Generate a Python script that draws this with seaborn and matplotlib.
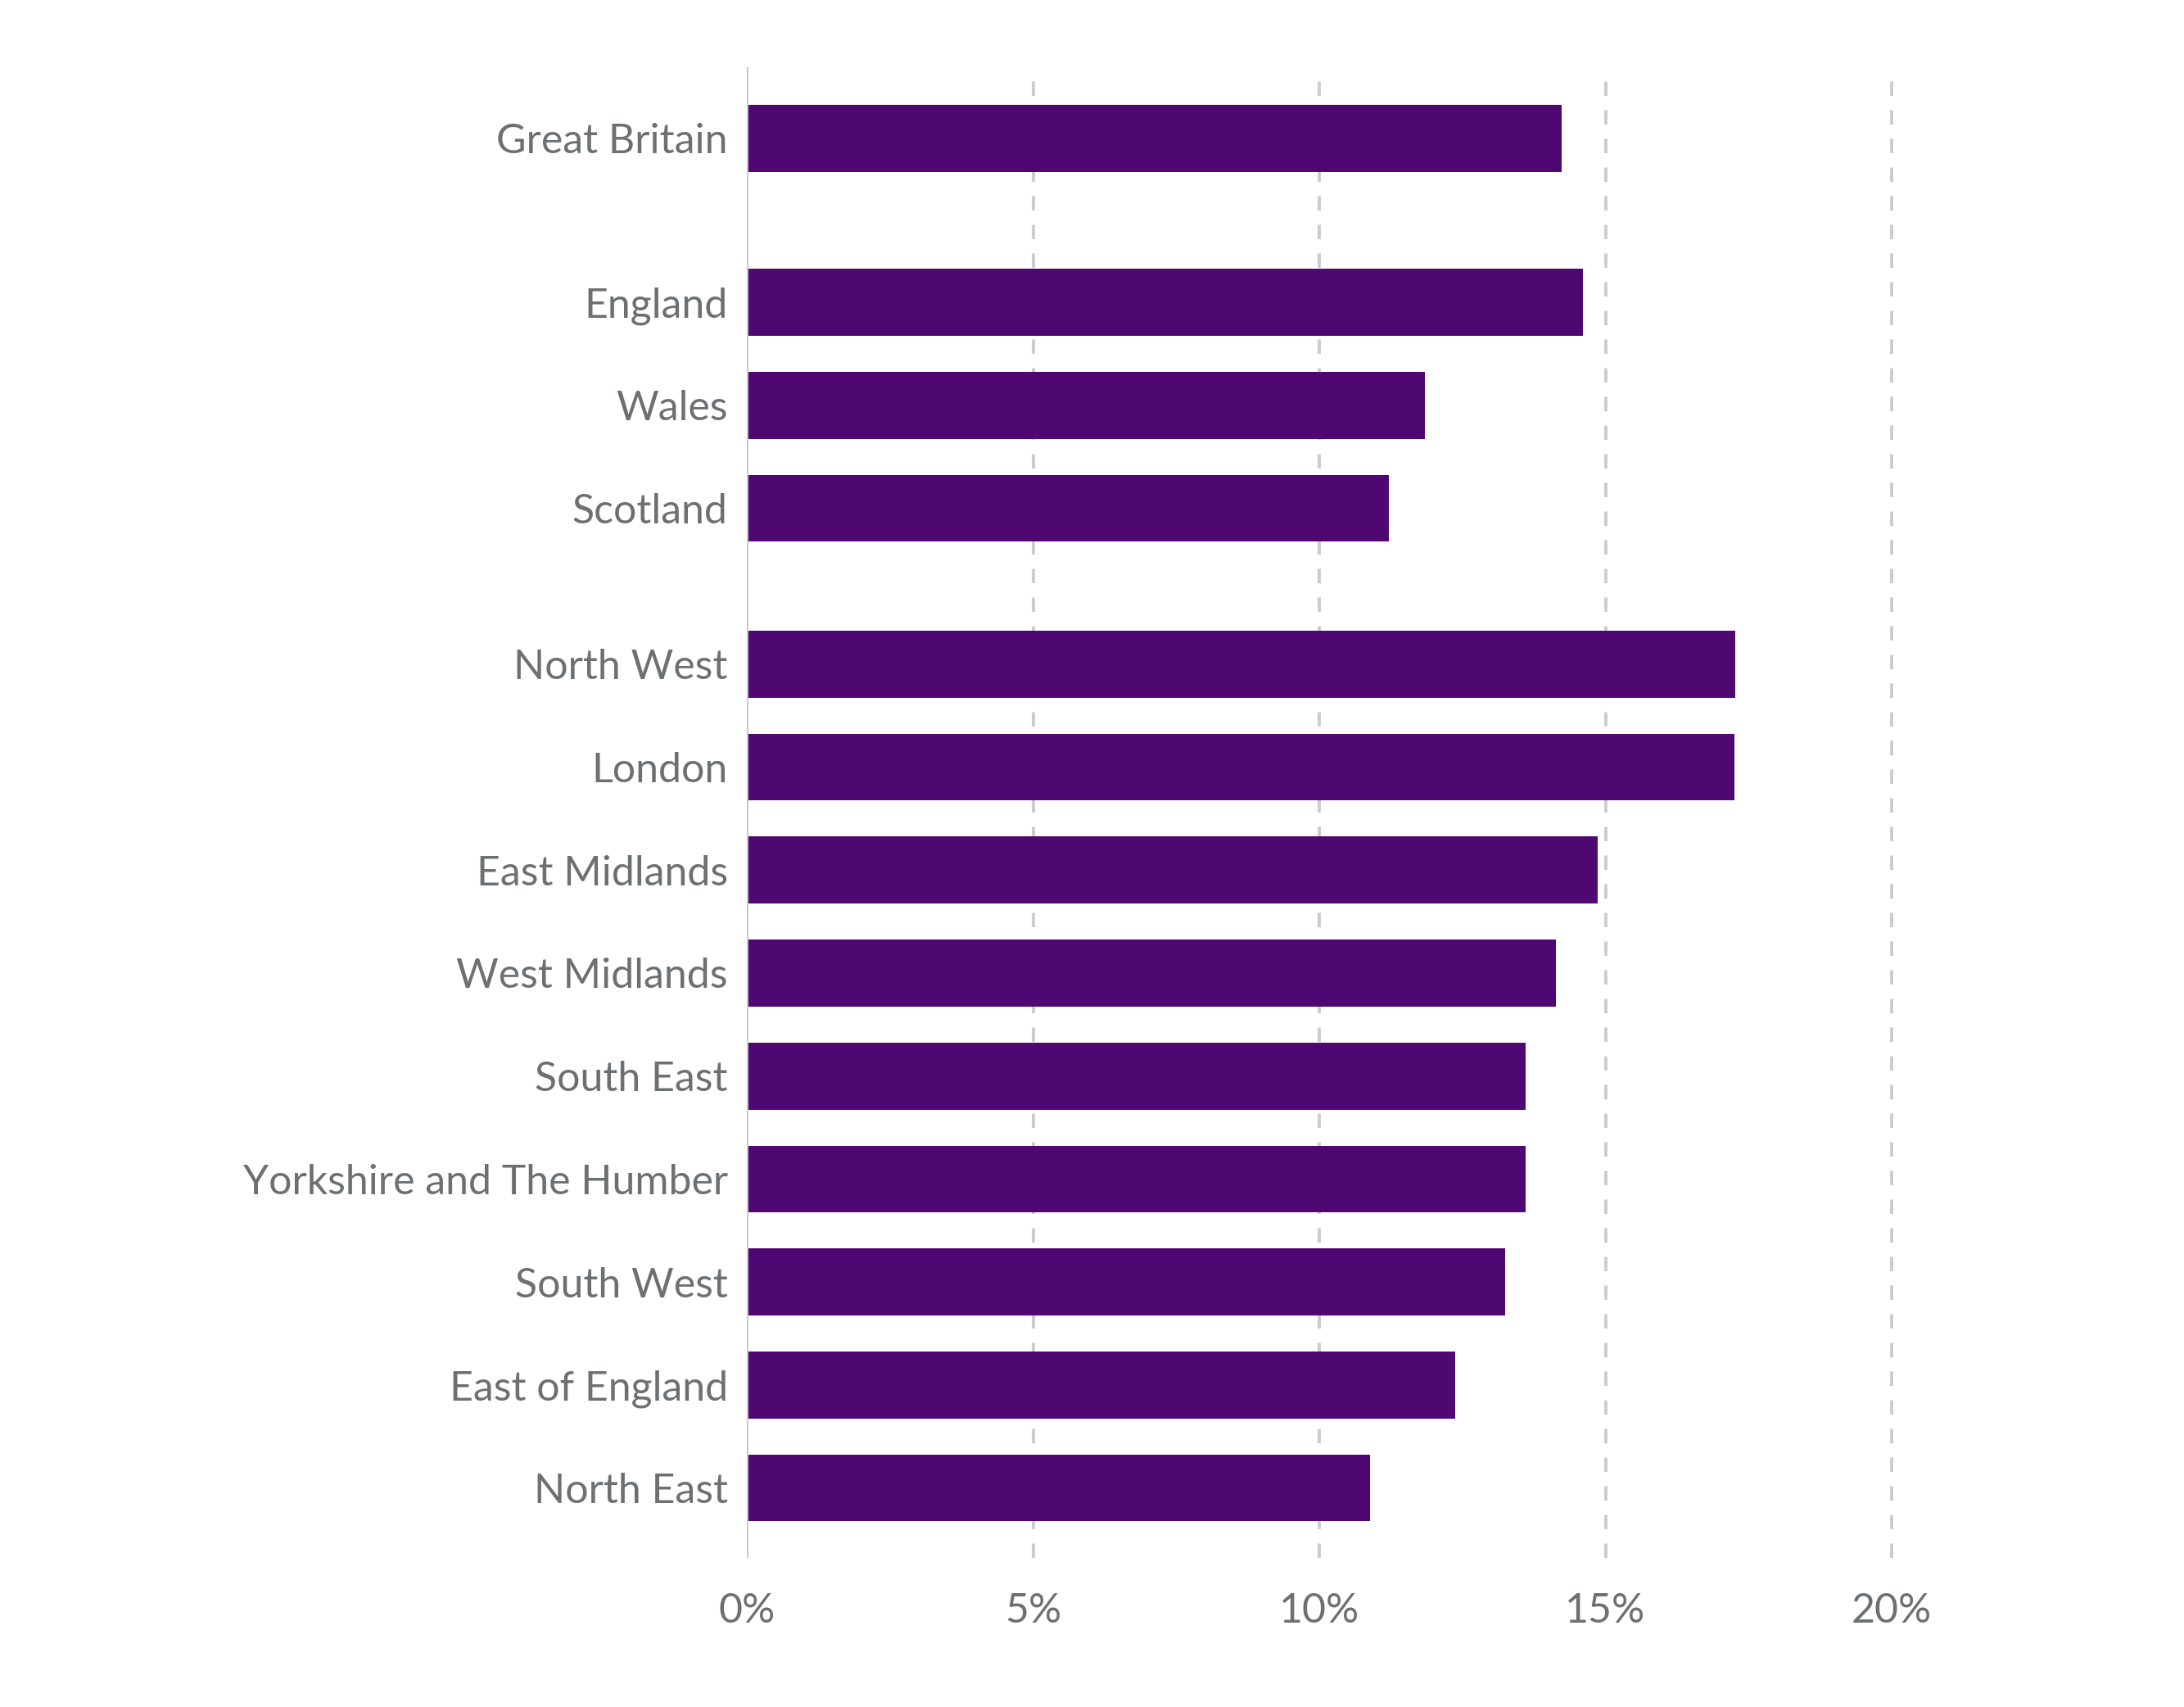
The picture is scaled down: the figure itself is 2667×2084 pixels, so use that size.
import matplotlib
matplotlib.use("Agg")
import matplotlib.pyplot as plt
import seaborn as sns
import pandas as pd

categories = ["Great Britain", "England", "Wales", "Scotland", "North West", "London",
              "East Midlands", "West Midlands", "South East", "Yorkshire and The Humber",
              "South West", "East of England", "North East"]
values = [14.24, 14.61, 11.84, 11.21, 17.27, 17.26, 14.86, 14.14, 13.61, 13.61,
          13.25, 12.37, 10.89]
groups = [0, 1, 1, 1, 2, 2, 2, 2, 2, 2, 2, 2, 2]
tick_values = [0, 5, 10, 15, 20]
tick_labels = ["0%", "5%", "10%", "15%", "20%"]

# layout: extra space before each new group
pos = []
for i, g in enumerate(groups):
    extra = 0.0
    if g >= 1:
        extra += 0.595
    if g >= 2:
        extra += 0.513
    pos.append(i + extra)

df = pd.DataFrame({"category": categories, "value": values, "pos": pos})

sns.set_theme(style="white")
plt.rcParams['font.family'] = ['Lato', 'DejaVu Sans']

fig = plt.figure(figsize=(26.67, 20.84), dpi=100)
left, right = 0.3421, 0.8661
ax = fig.add_axes([left, 0.0873, right - left, 0.9607 - 0.0873])

sns.barplot(data=df, x="value", y="pos", orient="h", native_scale=True,
            width=0.65, color="#4f0872", saturation=1, ax=ax, zorder=3,
            linewidth=0)

ax.set_xlim(0, 20)
ax.set_ylim(pos[-1] + 0.68, pos[0] - 0.69)

for t in tick_values[1:]:
    ax.axvline(t, color="#cccccc", lw=2.8, linestyle=(0, (4.5, 4.5)), zorder=1,
               clip_on=False)
ax.axvline(0, color="#c8c8c8", lw=2.8, zorder=4)

ax.set_yticks(pos)
ax.set_yticklabels(categories)
ax.set_xticks(tick_values)
ax.set_xticklabels(tick_labels)
ax.tick_params(axis="y", length=0, pad=17, labelsize=36, labelcolor="#6d7073")
ax.tick_params(axis="x", length=0, pad=30, labelsize=36, labelcolor="#6d7073")
for s in ax.spines.values():
    s.set_visible(False)
ax.set_xlabel("")
ax.set_ylabel("")
ax.grid(False)

fig.savefig("out.png", dpi=100, facecolor="white")
